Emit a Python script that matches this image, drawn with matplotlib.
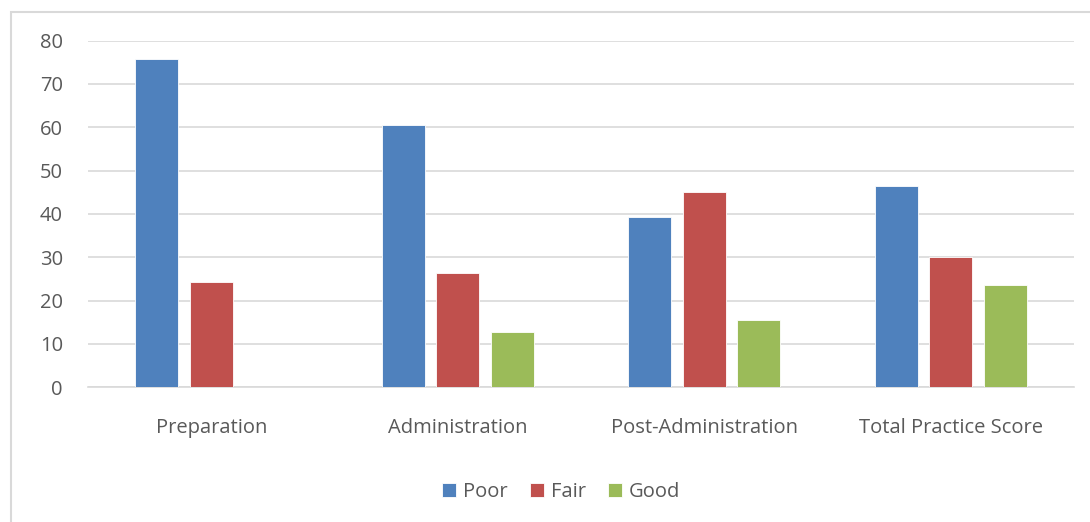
import matplotlib
matplotlib.use("Agg")
import matplotlib.pyplot as plt
from matplotlib.patches import Rectangle
import numpy as np

categories = ["Preparation", "Administration", "Post-Administration", "Total Practice Score"]
series_names = ["Poor", "Fair", "Good"]
poor = [75.7, 60.6, 39.2, 46.4]
fair = [24.2, 26.3, 45.0, 30.0]
good = [0.0, 12.8, 15.6, 23.5]
y_ticks = [0, 10, 20, 30, 40, 50, 60, 70, 80]

colors = ["#4f81bd", "#c0504d", "#9bbb59"]
text_color = "#595959"
grid_color = "#d9d9d9"

plt.rcParams["font.family"] = ["Open Sans", "DejaVu Sans"]

fig = plt.figure(figsize=(10.9, 5.22), dpi=100)
ax = fig.add_axes([88 / 1090, 1 - 387.3 / 522, (1074 - 88) / 1090, (387.3 - 40.5) / 522])

# outer chart frame
fig.patches.append(Rectangle((10.5 / 1090, -0.02), 1.1, 1 - 11.5 / 522 + 0.02,
                             transform=fig.transFigure, fill=False,
                             edgecolor=grid_color, linewidth=1.5, zorder=0))

x = np.arange(len(categories))
width = 0.175
step = 0.2215
for i, (vals, name) in enumerate(zip([poor, fair, good], series_names)):
    ax.bar(x + (i - 1) * step, vals, width, color=colors[i], label=name,
           edgecolor="white", linewidth=0.6, zorder=3)

ax.set_xlim(-0.5, 3.5)
ax.set_ylim(0, 80)
ax.set_yticks(y_ticks)
ax.yaxis.grid(True, color=grid_color, linewidth=1.2, zorder=0)
ax.set_axisbelow(True)
for s in ["top", "right", "left"]:
    ax.spines[s].set_visible(False)
ax.spines["bottom"].set_color(grid_color)
ax.spines["bottom"].set_linewidth(1.2)
ax.tick_params(axis="both", length=0, colors=text_color, labelsize=14.5)
ax.tick_params(axis="y", pad=18)
ax.tick_params(axis="x", pad=22)
ax.set_xticks(x)
ax.set_xticklabels(categories)

leg = fig.legend(loc="center", bbox_to_anchor=(561 / 1090, 1 - 492 / 522), ncol=3,
                 frameon=False, fontsize=14.5, handlelength=0.7, handleheight=0.7,
                 handletextpad=0.35, columnspacing=1.1)
for t in leg.get_texts():
    t.set_color(text_color)

fig.savefig("out.png", dpi=100, facecolor="white")
